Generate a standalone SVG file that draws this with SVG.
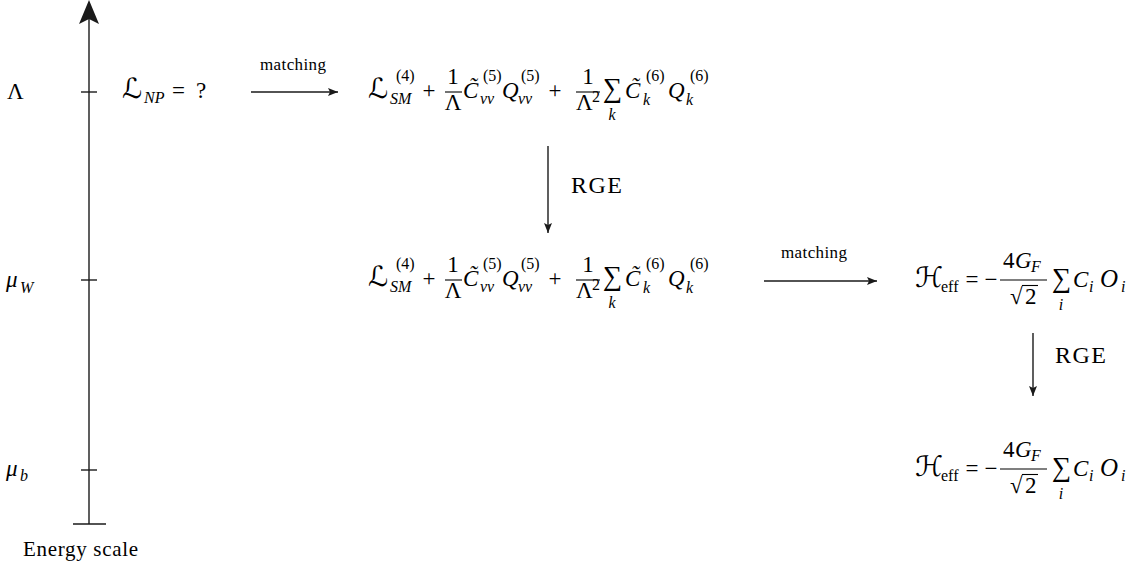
<svg xmlns="http://www.w3.org/2000/svg" width="1148" height="572" viewBox="0 0 1148 572">
<style>
text{font-family:"Liberation Serif","DejaVu Serif",serif;fill:#000;}
.m{font-size:23px;}
.i{font-style:italic;}
.s{font-size:16px;}
.lab{font-size:17px;}
.sig{font-size:27px;}
.cal{font-family:"DejaVu Serif","DejaVu Sans","Liberation Serif",serif;font-size:28px;}
.ln{stroke:#1a1a1a;stroke-width:1.4;fill:none;}
.bar{stroke:#000;stroke-width:1.1;}
</style>
<defs>
<marker id="ah" markerWidth="12" markerHeight="10" refX="10" refY="5" orient="auto" markerUnits="userSpaceOnUse">
<path d="M0,1 L10,5 L0,9 L2,5 Z" fill="#1a1a1a"/>
</marker>
</defs>
<g id="axis">
<line class="ln" x1="89" y1="18" x2="89" y2="524"/>
<path d="M89,0 L99,24 L89,19 L79,24 Z" fill="#1a1a1a"/>
<line class="ln" x1="81" y1="92" x2="97" y2="92"/>
<line class="ln" x1="81" y1="280" x2="97" y2="280"/>
<line class="ln" x1="81" y1="470" x2="97" y2="470"/>
<line class="ln" x1="73" y1="524" x2="106" y2="524"/>
<text x="23" y="556" style="font-size:21px" textLength="115">Energy scale</text>
</g>
<g id="label-lambda"><text class="m" x="7" y="99">Λ</text></g>
<g id="label-muW"><text class="m i" x="6" y="287">μ</text><text class="s i" x="20" y="293">W</text></g>
<g id="label-mub"><text class="m i" x="6" y="476">μ</text><text class="s i" x="20" y="481">b</text></g>
<g id="node-LNP">
<text class="cal" x="122" y="98">ℒ</text><text class="s i" x="144" y="103">NP</text>
<text class="m" x="172" y="98">=</text><text class="m" x="196" y="98">?</text>
</g>
<g id="node-L1">
<text class="cal" x="368" y="98">ℒ</text>
<text class="s" x="396" y="81">(4)</text><text class="s i" x="390" y="104">SM</text>
<text class="m" x="429" y="98" text-anchor="middle">+</text>
<text class="m" x="453" y="84" text-anchor="middle">1</text>
<line class="bar" x1="445" y1="92" x2="462" y2="92"/>
<text class="m" x="453" y="110" text-anchor="middle">Λ</text>
<text class="m i" x="463" y="98">C&#771;</text>
<text class="s" x="483" y="81">(5)</text><text class="s i" x="480" y="104">νν</text>
<text class="m i" x="502" y="98">Q</text>
<text class="s" x="521" y="81">(5)</text><text class="s i" x="518" y="104">νν</text>
<text class="m" x="555" y="98" text-anchor="middle">+</text>
<text class="m" x="588" y="84" text-anchor="middle">1</text>
<line class="bar" x1="576" y1="92" x2="600" y2="92"/>
<text class="m" x="576" y="110">Λ</text><text class="s" x="592" y="102">2</text>
<text class="sig" x="603" y="97">∑</text>
<text class="s i" x="612" y="120" text-anchor="middle">k</text>
<text class="m i" x="625" y="98">C&#771;</text>
<text class="s" x="646" y="81">(6)</text><text class="s i" x="643" y="105">k</text>
<text class="m i" x="668" y="98">Q</text>
<text class="s" x="690" y="81">(6)</text><text class="s i" x="686" y="105">k</text>
</g>
<g id="node-L2" transform="translate(0,188)">
<text class="cal" x="368" y="98">ℒ</text>
<text class="s" x="396" y="81">(4)</text><text class="s i" x="390" y="104">SM</text>
<text class="m" x="429" y="98" text-anchor="middle">+</text>
<text class="m" x="453" y="84" text-anchor="middle">1</text>
<line class="bar" x1="445" y1="92" x2="462" y2="92"/>
<text class="m" x="453" y="110" text-anchor="middle">Λ</text>
<text class="m i" x="463" y="98">C&#771;</text>
<text class="s" x="483" y="81">(5)</text><text class="s i" x="480" y="104">νν</text>
<text class="m i" x="502" y="98">Q</text>
<text class="s" x="521" y="81">(5)</text><text class="s i" x="518" y="104">νν</text>
<text class="m" x="555" y="98" text-anchor="middle">+</text>
<text class="m" x="588" y="84" text-anchor="middle">1</text>
<line class="bar" x1="576" y1="92" x2="600" y2="92"/>
<text class="m" x="576" y="110">Λ</text><text class="s" x="592" y="102">2</text>
<text class="sig" x="603" y="97">∑</text>
<text class="s i" x="612" y="120" text-anchor="middle">k</text>
<text class="m i" x="625" y="98">C&#771;</text>
<text class="s" x="646" y="81">(6)</text><text class="s i" x="643" y="105">k</text>
<text class="m i" x="668" y="98">Q</text>
<text class="s" x="690" y="81">(6)</text><text class="s i" x="686" y="105">k</text>
</g>
<g id="node-H1">
<text class="cal" x="915" y="287">ℋ</text><text class="s" x="941" y="292">eff</text>
<text class="m" x="972" y="287" text-anchor="middle">=</text><text class="m" x="991" y="287" text-anchor="middle">−</text>
<text class="m" x="1003" y="268">4</text><text class="m i" x="1015" y="268">G</text><text class="s i" x="1031" y="272">F</text>
<line class="bar" x1="1000" y1="280" x2="1047" y2="280"/>
<text class="m" x="1010" y="304">√</text><line class="bar" x1="1022" y1="285.5" x2="1038" y2="285.5"/><text class="m" x="1025" y="304">2</text>
<text class="sig" x="1052" y="287">∑</text>
<text class="s i" x="1061" y="310" text-anchor="middle">i</text>
<text class="m i" x="1073" y="287">C</text><text class="s i" x="1089" y="292">i</text>
<text class="m i" x="1100" y="287" style="font-size:25px">O</text><text class="s i" x="1121" y="292">i</text>
</g>
<g id="node-H2" transform="translate(0,189)">
<text class="cal" x="915" y="287">ℋ</text><text class="s" x="941" y="292">eff</text>
<text class="m" x="972" y="287" text-anchor="middle">=</text><text class="m" x="991" y="287" text-anchor="middle">−</text>
<text class="m" x="1003" y="268">4</text><text class="m i" x="1015" y="268">G</text><text class="s i" x="1031" y="272">F</text>
<line class="bar" x1="1000" y1="280" x2="1047" y2="280"/>
<text class="m" x="1010" y="304">√</text><line class="bar" x1="1022" y1="285.5" x2="1038" y2="285.5"/><text class="m" x="1025" y="304">2</text>
<text class="sig" x="1052" y="287">∑</text>
<text class="s i" x="1061" y="310" text-anchor="middle">i</text>
<text class="m i" x="1073" y="287">C</text><text class="s i" x="1089" y="292">i</text>
<text class="m i" x="1100" y="287" style="font-size:25px">O</text><text class="s i" x="1121" y="292">i</text>
</g>
<g id="connectors">
<line class="ln" x1="251" y1="92" x2="338" y2="92" marker-end="url(#ah)"/>
<text class="lab" x="293" y="70" text-anchor="middle" textLength="66">matching</text>
<line class="ln" x1="548" y1="146" x2="548" y2="233" marker-end="url(#ah)"/>
<text class="m" x="571" y="193" style="font-size:24px" textLength="51">RGE</text>
<line class="ln" x1="764" y1="281" x2="877" y2="281" marker-end="url(#ah)"/>
<text class="lab" x="814" y="258" text-anchor="middle" textLength="66">matching</text>
<line class="ln" x1="1033" y1="333" x2="1033" y2="396" marker-end="url(#ah)"/>
<text class="m" x="1055" y="363" style="font-size:24px" textLength="51">RGE</text>
</g>
</svg>
